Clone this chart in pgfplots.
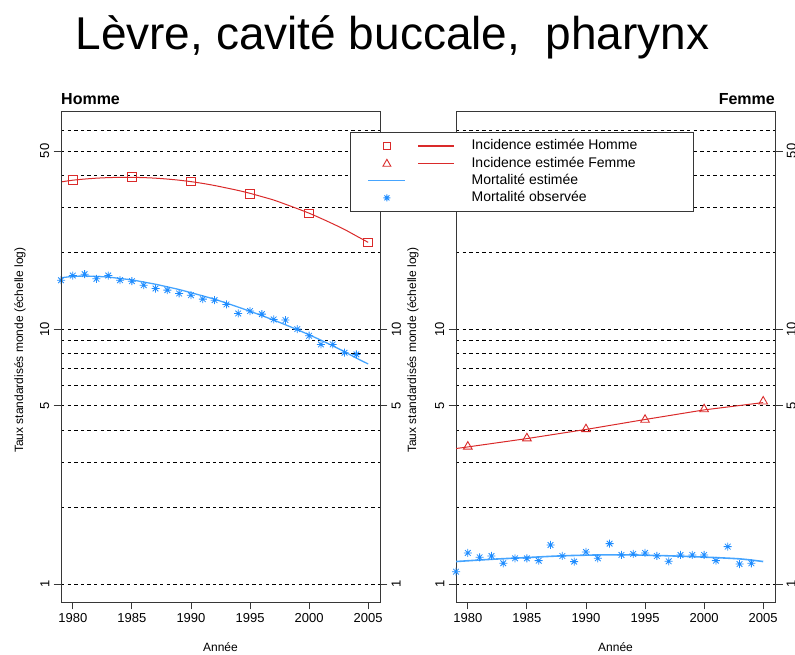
\documentclass[border=0pt]{standalone}
\usepackage{fontspec}
\setmainfont{Liberation Sans}
\usepackage{pgfplots}
\pgfplotsset{compat=1.18}
\definecolor{cR}{RGB}{218,42,42}
\definecolor{cB}{RGB}{30,140,255}
\definecolor{cBl}{RGB}{70,165,255}
\definecolor{cAx}{RGB}{55,55,55}
\pgfdeclareplotmark{rstar}{%
  \pgfpathmoveto{\pgfqpoint{-\pgfplotmarksize}{0pt}}\pgfpathlineto{\pgfqpoint{\pgfplotmarksize}{0pt}}%
  \pgfpathmoveto{\pgfqpoint{0pt}{-\pgfplotmarksize}}\pgfpathlineto{\pgfqpoint{0pt}{\pgfplotmarksize}}%
  \pgfpathmoveto{\pgfqpoint{-0.7071\pgfplotmarksize}{-0.7071\pgfplotmarksize}}\pgfpathlineto{\pgfqpoint{0.7071\pgfplotmarksize}{0.7071\pgfplotmarksize}}%
  \pgfpathmoveto{\pgfqpoint{-0.7071\pgfplotmarksize}{0.7071\pgfplotmarksize}}\pgfpathlineto{\pgfqpoint{0.7071\pgfplotmarksize}{-0.7071\pgfplotmarksize}}%
  \pgfusepathqstroke}
\pgfplotsset{
  every axis/.append style={
    scale only axis, width=319pt, height=490pt, anchor=south west,
    xmin=1979, xmax=2006, ymin=0.85, ymax=71.1,
    tick align=outside, major tick length=7.5pt, minor tick length=0pt,
    axis line style={cAx, line width=1pt},
    tick style={cAx, line width=0.9pt},
    tick label style={font=\fontsize{13}{15}\selectfont},
    label style={font=\fontsize{12}{14}\selectfont},
    yticklabel shift=4pt,
  },
}
\begin{document}
\begin{tikzpicture}
% ---------------- Homme ----------------
\begin{semilogyaxis}[at={(61pt,52pt)},
  ytick={1,5,10,50}, yticklabels={1,5,10,50},
  xtick={1980,1985,1990,1995,2000,2005},
  xticklabels={1980,1985,1990,1995,2000,2005},
  xtick pos=bottom, ytick pos=left,
  minor ytick={2,3,4,6,7,8,9,20,30,40,60},
  ymajorgrids, yminorgrids,
  major grid style={black, line width=0.9pt, dash pattern=on 3.3pt off 3.3pt},
  minor grid style={black, line width=0.9pt, dash pattern=on 3.3pt off 3.3pt},
  yticklabel style={rotate=90, anchor=south, inner sep=0pt},
  xlabel={Année},
  xlabel style={at={(axis description cs:0.5,-0.0918)}, anchor=center},
  ylabel={Taux standardisés monde (échelle log)},
  ylabel style={at={(axis description cs:-0.1285,0.514)}, anchor=center},
  title={Homme},
  title style={at={(axis description cs:0,1)}, anchor=base west, inner sep=0pt, yshift=1pt, font=\bfseries\fontsize{16}{18}\selectfont},
]
\addplot[cR, line width=1pt, smooth, forget plot] coordinates {
(1979,37.8)(1980,38.4)(1981,38.8)(1982,39.1)(1983,39.3)(1984,39.4)(1985,39.4)
(1986,39.3)(1987,39.1)(1988,38.8)(1989,38.4)(1990,37.9)(1991,37.3)(1992,36.6)
(1993,35.8)(1994,35.0)(1995,34.1)(1996,33.1)(1997,32.1)(1998,30.9)(1999,29.7)
(2000,28.5)(2001,27.2)(2002,25.9)(2003,24.6)(2004,23.2)(2005,21.9)};
\addplot[cR, only marks, mark=square, mark size=4.3pt, mark options={line width=0.9pt}, forget plot] coordinates {
(1980,38.4)(1985,39.5)(1990,38.0)(1995,34.0)(2000,28.4)(2005,21.9)};
\addplot[cBl, line width=1.3pt, smooth, forget plot] coordinates {
(1979,15.9)(1980,16.1)(1981,16.15)(1982,16.1)(1983,16.0)(1984,15.8)(1985,15.6)
(1986,15.3)(1987,15.0)(1988,14.65)(1989,14.3)(1990,13.9)(1991,13.5)(1992,13.1)
(1993,12.65)(1994,12.2)(1995,11.75)(1996,11.3)(1997,10.85)(1998,10.4)(1999,9.95)
(2000,9.5)(2001,9.05)(2002,8.6)(2003,8.15)(2004,7.7)(2005,7.3)};
\addplot[cB, only marks, mark=rstar, mark size=4pt, mark options={line width=0.8pt}, forget plot] coordinates {
(1979,15.56)(1980,16.23)(1981,16.43)(1982,15.75)(1983,16.23)(1984,15.56)(1985,15.42)
(1986,14.87)(1987,14.43)(1988,14.22)(1989,13.80)(1990,13.59)(1991,13.11)(1992,12.99)
(1993,12.50)(1994,11.52)(1995,11.77)(1996,11.45)(1997,10.91)(1998,10.85)(1999,10.0)
(2000,9.42)(2001,8.71)(2002,8.71)(2003,8.08)(2004,7.96)};
\end{semilogyaxis}
\begin{semilogyaxis}[at={(61pt,52pt)}, hide x axis,
  ytick={1,5,10,50}, yticklabels={1,5,10,50},
  ytick pos=right, yticklabel pos=right,
  yticklabel style={rotate=90, anchor=north, inner sep=0pt}]
\addplot[draw=none, forget plot] coordinates {(1980,1)(2005,50)};
\end{semilogyaxis}
% ---------------- Femme ----------------
\begin{semilogyaxis}[at={(456pt,52pt)}, hide x axis,
  ytick={1,5,10,50}, yticklabels={1,5,10,50},
  ytick pos=right, yticklabel pos=right,
  yticklabel style={rotate=90, anchor=north, inner sep=0pt}]
\addplot[draw=none, forget plot] coordinates {(1980,1)(2005,50)};
\end{semilogyaxis}
\begin{semilogyaxis}[at={(456pt,52pt)},
  ytick={1,5,10,50}, yticklabels={1,5,10,50},
  xtick={1980,1985,1990,1995,2000,2005},
  xticklabels={1980,1985,1990,1995,2000,2005},
  xtick pos=bottom, ytick pos=left,
  minor ytick={2,3,4,6,7,8,9,20,30,40,60},
  ymajorgrids, yminorgrids,
  major grid style={black, line width=0.9pt, dash pattern=on 3.3pt off 3.3pt},
  minor grid style={black, line width=0.9pt, dash pattern=on 3.3pt off 3.3pt},
  yticklabel style={rotate=90, anchor=south, inner sep=0pt},
  xlabel={Année},
  xlabel style={at={(axis description cs:0.5,-0.0918)}, anchor=center},
  ylabel={Taux standardisés monde (échelle log)},
  ylabel style={at={(axis description cs:-0.1348,0.514)}, anchor=center},
  title={Femme},
  title style={at={(axis description cs:1,1)}, anchor=base east, inner sep=0pt, yshift=1pt, font=\bfseries\fontsize{16}{18}\selectfont},
  legend cell align=left,
  legend style={at={(axis description cs:-0.3323,0.9592)}, anchor=north west,
    draw=cAx, line width=1pt, fill=white, inner xsep=17pt, inner ysep=6.5pt,
    row sep=3.3pt, font=\fontsize{14}{16}\selectfont,
    nodes={inner sep=0pt, text height=11pt, text depth=3pt}},
]
\addplot[cR, line width=1pt, forget plot] coordinates {
(1979,3.40)(1980,3.45)(1985,3.72)(1990,4.04)(1995,4.42)(2000,4.82)(2005,5.15)};
\addplot[cR, only marks, mark=triangle, mark size=5pt, mark options={line width=0.9pt}, forget plot] coordinates {
(1980,3.46)(1985,3.73)(1990,4.05)(1995,4.41)(2000,4.85)(2005,5.20)};
\addplot[cBl, line width=1.6pt, smooth, forget plot] coordinates {
(1979,1.225)(1982,1.25)(1985,1.27)(1988,1.29)(1991,1.30)(1994,1.30)(1997,1.29)
(2000,1.275)(2003,1.255)(2005,1.225)};
\addplot[cB, only marks, mark=rstar, mark size=4pt, mark options={line width=0.8pt}, forget plot] coordinates {
(1979,1.118)(1980,1.324)(1981,1.273)(1982,1.288)(1983,1.206)(1984,1.261)(1985,1.261)
(1986,1.235)(1987,1.423)(1988,1.288)(1989,1.224)(1990,1.336)(1991,1.261)(1992,1.440)
(1993,1.300)(1994,1.312)(1995,1.324)(1996,1.288)(1997,1.228)(1998,1.300)(1999,1.300)
(2000,1.300)(2001,1.235)(2002,1.402)(2003,1.198)(2004,1.206)};
\addlegendimage{legend image code/.code={%
  \draw[draw=cR, line width=0.9pt] (15.3pt,-3.5pt) rectangle (22.3pt,3.5pt);
  \draw[draw=cR, line width=1.2pt] (50pt,0pt) -- (86pt,0pt);
  \path (0pt,0pt) (103pt,0pt);}}
\addlegendentry{\makebox[205pt][l]{Incidence estimée Homme}}
\addlegendimage{legend image code/.code={%
  \draw[draw=cR, line width=0.9pt] (18.8pt,4pt) -- (14.8pt,-3pt) -- (22.8pt,-3pt) -- cycle;
  \draw[draw=cR, line width=1.2pt] (50pt,0pt) -- (86pt,0pt);
  \path (0pt,0pt) (103pt,0pt);}}
\addlegendentry{\makebox[205pt][l]{Incidence estimée Femme}}
\addlegendimage{legend image code/.code={%
  \draw[draw=cBl, line width=1.2pt] (0pt,0pt) -- (37pt,0pt);
  \path (0pt,0pt) (103pt,0pt);}}
\addlegendentry{\makebox[205pt][l]{Mortalité estimée}}
\addlegendimage{legend image code/.code={%
  \draw[draw=cB, line width=0.9pt] (15.3pt,0pt) -- (22.3pt,0pt) (18.8pt,-3.5pt) -- (18.8pt,3.5pt)
     (16.3pt,-2.5pt) -- (21.3pt,2.5pt) (16.3pt,2.5pt) -- (21.3pt,-2.5pt);
  \path (0pt,0pt) (103pt,0pt);}}
\addlegendentry{\makebox[205pt][l]{Mortalité observée}}
\end{semilogyaxis}
\node[anchor=base, font=\fontsize{46}{50}\selectfont, inner sep=0pt] at (392.5pt,604pt) {Lèvre, cavité buccale,\ \ pharynx};
\pgfresetboundingbox
\useasboundingbox (0pt,0pt) rectangle (795pt,654pt);
\end{tikzpicture}
\end{document}
